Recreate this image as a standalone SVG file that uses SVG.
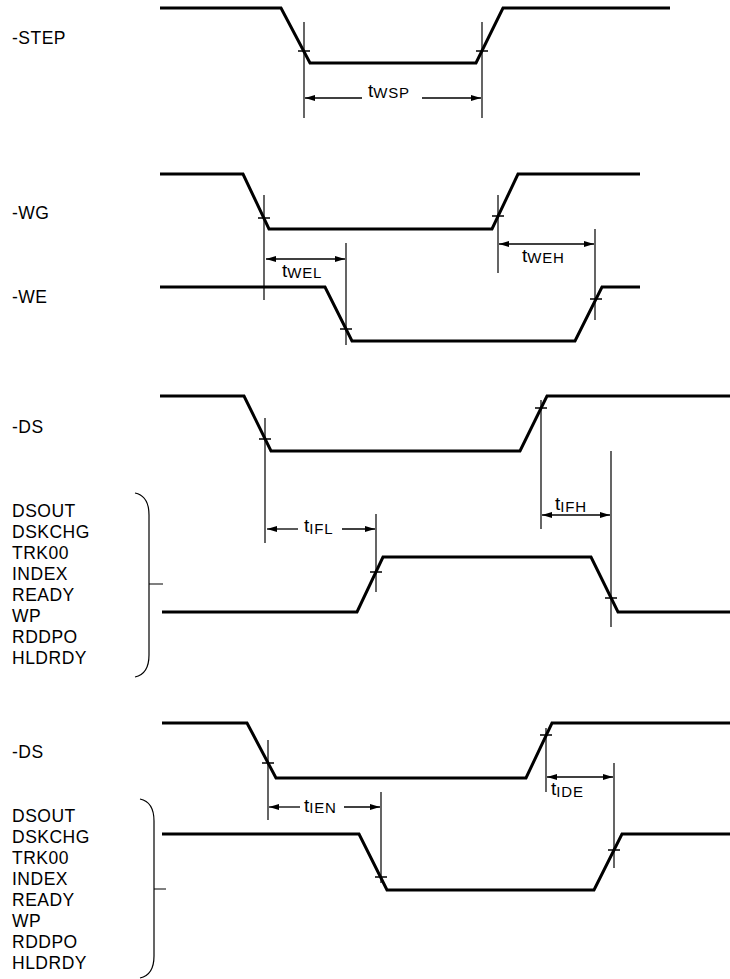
<svg xmlns="http://www.w3.org/2000/svg" width="730" height="979" viewBox="0 0 730 979">
<style>
.sig{fill:none;stroke:#000;stroke-width:3;stroke-linejoin:miter}
.thin{fill:none;stroke:#000;stroke-width:1.2}
.tick{fill:none;stroke:#000;stroke-width:1.4}
.arr{fill:none;stroke:#000;stroke-width:1.3}
.lbl{font-family:"Liberation Sans",Arial,sans-serif;font-size:17.5px;letter-spacing:0.5px;fill:#000}
.t{font-family:"Liberation Sans",Arial,sans-serif;font-size:19px;fill:#000}
.sub{font-size:15px;letter-spacing:0.8px}
</style>
<defs>
<marker id="ah" viewBox="0 0 10 6" refX="10" refY="3" markerWidth="10" markerHeight="6" orient="auto-start-reverse" markerUnits="userSpaceOnUse"><path d="M0,0 L10,3 L0,6 z" fill="#000"/></marker>
</defs>

<g id="labels">
<text class="lbl" x="12" y="44">-STEP</text>
<text class="lbl" x="12" y="219">-WG</text>
<text class="lbl" x="12" y="303">-WE</text>
<text class="lbl" x="12" y="433">-DS</text>
<text class="lbl" x="12" y="758">-DS</text>
</g>

<g id="group1-labels">
<text class="lbl" x="12" y="517">DSOUT</text>
<text class="lbl" x="12" y="538">DSKCHG</text>
<text class="lbl" x="12" y="559">TRK00</text>
<text class="lbl" x="12" y="580">INDEX</text>
<text class="lbl" x="12" y="601">READY</text>
<text class="lbl" x="12" y="622">WP</text>
<text class="lbl" x="12" y="643">RDDPO</text>
<text class="lbl" x="12" y="664">HLDRDY</text>
<path class="thin" d="M135,493 Q149,496 149,515 L149,655 Q149,674 135,677 M149,584 L163,584"/>
</g>

<g id="group2-labels">
<text class="lbl" x="12" y="822">DSOUT</text>
<text class="lbl" x="12" y="843">DSKCHG</text>
<text class="lbl" x="12" y="864">TRK00</text>
<text class="lbl" x="12" y="885">INDEX</text>
<text class="lbl" x="12" y="906">READY</text>
<text class="lbl" x="12" y="927">WP</text>
<text class="lbl" x="12" y="948">RDDPO</text>
<text class="lbl" x="12" y="969">HLDRDY</text>
<path class="thin" d="M140,799 Q154,802 154,821 L154,956 Q154,975 140,978 M154,889 L166,889"/>
</g>

<g id="sig-step"><path class="sig" d="M160,8 L281,8 L310,63 L476,63 L503,8 L670,8"/></g>
<g id="sig-wg"><path class="sig" d="M160,174 L243,174 L269,229 L492,229 L518,174 L640,174"/></g>
<g id="sig-we"><path class="sig" d="M160,287 L325,287 L352,341 L575,341 L602,287 L640,287"/></g>
<g id="sig-ds1"><path class="sig" d="M160,396 L244,396 L271,451 L520,451 L547,396 L730,396"/></g>
<g id="sig-out1"><path class="sig" d="M162,612 L357,612 L383,557 L591,557 L618,612 L730,612"/></g>
<g id="sig-ds2"><path class="sig" d="M162,723 L247,723 L276,778 L526,778 L552,723 L730,723"/></g>
<g id="sig-out2"><path class="sig" d="M162,834 L359,834 L387,890 L594,890 L622,834 L730,834"/></g>

<g id="ticks">
<path class="tick" d="M298,51 h12 M476,51 h12 M258,218 h12 M492,216 h12 M340,329 h12 M590,299 h12 M259,439 h12 M535,408 h12 M370,572 h12 M605,598 h12 M262,763 h12 M540,735 h12 M375,877 h12 M608,850 h12"/>
</g>

<g id="connectors">
<path class="thin" d="M304,22 V118 M482,22 V118 M264,195 V300 M498,195 V273 M346,243 V345 M595,229 V320 M265,418 V543 M541,400 V529 M376,514 V592 M611,451 V627 M268,740 V820 M546,728 V792 M381,792 V883 M614,763 V868"/>
<line class="arr" x1="362" y1="98" x2="305" y2="98" marker-end="url(#ah)"/>
<line class="arr" x1="422" y1="98" x2="481" y2="98" marker-end="url(#ah)"/>
<line class="arr" x1="266" y1="259" x2="345" y2="259" marker-start="url(#ah)" marker-end="url(#ah)"/>
<line class="arr" x1="499" y1="244" x2="594" y2="244" marker-start="url(#ah)" marker-end="url(#ah)"/>
<line class="arr" x1="298" y1="529" x2="267" y2="529" marker-end="url(#ah)"/>
<line class="arr" x1="342" y1="529" x2="375" y2="529" marker-end="url(#ah)"/>
<line class="arr" x1="542" y1="515" x2="610" y2="515" marker-start="url(#ah)" marker-end="url(#ah)"/>
<line class="arr" x1="300" y1="807" x2="269" y2="807" marker-end="url(#ah)"/>
<line class="arr" x1="344" y1="807" x2="380" y2="807" marker-end="url(#ah)"/>
<line class="arr" x1="547" y1="777" x2="613" y2="777" marker-start="url(#ah)" marker-end="url(#ah)"/>
</g>

<g id="timing-labels">
<text class="t" x="368" y="97">t<tspan class="sub" dy="1">WSP</tspan></text>
<text class="t" x="282" y="277">t<tspan class="sub" dy="1">WEL</tspan></text>
<text class="t" x="522" y="262">t<tspan class="sub" dy="0.5">WEH</tspan></text>
<text class="t" x="304" y="532">t<tspan class="sub" dy="2">IFL</tspan></text>
<text class="t" x="555" y="510">t<tspan class="sub" dy="2">IFH</tspan></text>
<text class="t" x="304" y="812">t<tspan class="sub" dy="1">IEN</tspan></text>
<text class="t" x="551" y="795">t<tspan class="sub" dy="2">IDE</tspan></text>
</g>
</svg>
